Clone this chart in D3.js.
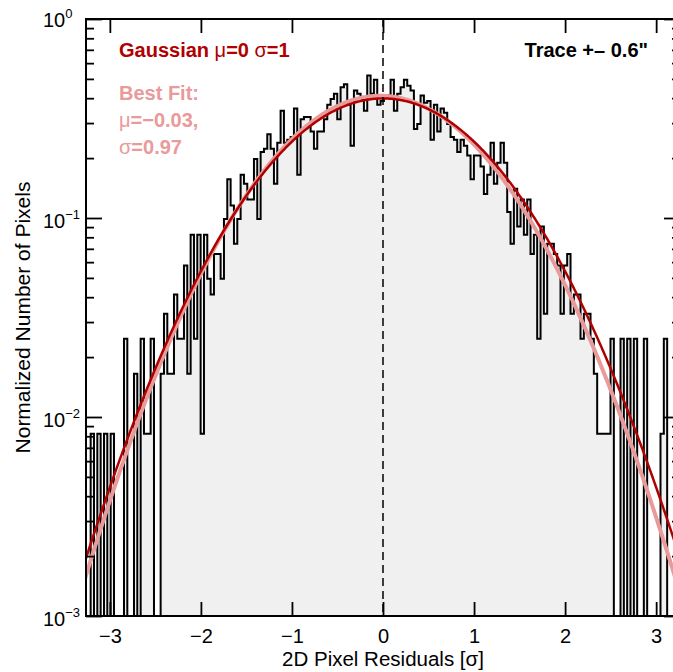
<!DOCTYPE html>
<html lang="en">
<head>
<meta charset="UTF-8">
<title>2D Pixel Residuals</title>
<script src="https://d3js.org/d3.v7.min.js"></script>
<style>
  body { margin: 0; background: #fff; }
  svg { display: block; font-family: Helvetica, "Liberation Sans", Arial, sans-serif; }
</style>
</head>
<body>
<script>
// histogram of residuals: pixel counts per bin (bins start at binStart, step binWidth, in sigma)
const binStart = -3.284;
const binWidth = 0.0366;
const binCounts = [
  0, 0, 1, 0, 1, 0, 1, 0, 1, 0,
  0, 0, 3, 0, 0, 2, 0, 3, 1, 1,
  3, 0, 0, 2, 4, 2, 2, 5, 3, 3,
  7, 2, 10, 3, 10, 1, 10, 6, 5, 8,
  8, 6, 12, 19, 14, 9, 12, 20, 18, 15,
  15, 24, 12, 26, 27, 32, 27, 18, 29, 42,
  29, 30, 31, 43, 20, 38, 39, 39, 33, 27,
  33, 33, 38, 45, 48, 51, 38, 55, 57, 45,
  28, 53, 51, 48, 42, 63, 51, 60, 45, 47,
  50, 50, 60, 42, 51, 55, 60, 56, 53, 34,
  36, 50, 46, 47, 30, 45, 33, 43, 41, 36,
  31, 30, 26, 30, 28, 25, 19, 25, 25, 22,
  16, 20, 29, 18, 23, 29, 23, 13, 9, 17,
  11, 15, 10, 15, 8, 10, 3, 11, 4, 9,
  9, 8, 7, 4, 7, 8, 4, 5, 5, 3,
  4, 4, 3, 2, 1, 1, 1, 1, 3, 0,
  0, 3, 0, 3, 0, 3, 0, 0, 3, 0,
  0, 0, 0, 1, 3, 0, 0, 0, 0
];

// gaussian curves (best fit drawn first, underneath)
const curveMu = [-0.03, 0];
const curveSigma = [0.97, 1];
const curveColors = ["#e99a9a", "#b00000"];
const curveWidths = [4, 2.5];

const xTicks = [-3, -2, -1, 0, 1, 2, 3];
const yDecades = [0, -1, -2, -3];

const width = 673, height = 672;
const plot = { left: 86, right: 680, top: 19, bottom: 616 };

const svg = d3.select("body").append("svg")
  .attr("width", width)
  .attr("height", height);

const x = d3.scaleLinear().domain([-3.262, 3.262]).range([plot.left, plot.right]);
const y = d3.scaleLog().domain([1e-3, 1]).range([plot.bottom, plot.top]);

// normalise counts to a density
const total = d3.sum(binCounts);
const bins = binCounts.map((c, i) => ({ x0: binStart + i * binWidth, v: c / (total * binWidth) }));
bins.push({ x0: binStart + binCounts.length * binWidth, v: bins[bins.length - 1].v });
const yv = v => v > 0 ? y(v) : plot.bottom + 2;

svg.append("clipPath").attr("id", "clip")
  .append("rect")
  .attr("x", plot.left).attr("y", plot.top)
  .attr("width", plot.right - plot.left).attr("height", plot.bottom - plot.top);

const g = svg.append("g").attr("clip-path", "url(#clip)");

g.append("path")
  .datum(bins)
  .attr("d", d3.area().curve(d3.curveStepAfter).x(d => x(d.x0)).y0(plot.bottom).y1(d => yv(d.v)))
  .attr("fill", "#f0f0f0");

g.append("path")
  .datum(bins)
  .attr("d", d3.line().curve(d3.curveStepAfter).x(d => x(d.x0)).y(d => yv(d.v)))
  .attr("fill", "none")
  .attr("stroke", "#000")
  .attr("stroke-width", 2);

// model curves
const xs = d3.range(-3.3, 3.3001, 0.01);
curveMu.forEach((mu, i) => {
  const s = curveSigma[i];
  const pts = xs.map(t => [t, Math.exp(-0.5 * ((t - mu) / s) ** 2) / (s * Math.sqrt(2 * Math.PI))]);
  g.append("path")
    .datum(pts)
    .attr("d", d3.line().x(d => x(d[0])).y(d => y(d[1])))
    .attr("fill", "none")
    .attr("stroke", curveColors[i])
    .attr("stroke-width", curveWidths[i]);
});

// zero line
g.append("line")
  .attr("x1", x(0)).attr("x2", x(0))
  .attr("y1", plot.top).attr("y2", plot.bottom)
  .attr("stroke", "#000")
  .attr("stroke-width", 1.5)
  .attr("stroke-dasharray", "8,5");

// axes, ticks pointing inward
const fmt = d => d < 0 ? "\u2212" + Math.abs(d) : String(d);
const minors = [];
yDecades.slice(1).forEach(d => { for (let m = 2; m <= 9; m++) minors.push(m * Math.pow(10, d)); });
const majors = yDecades.map(d => Math.pow(10, d));

function styleAxis(sel) {
  sel.select(".domain").remove();
  sel.attr("font-family", null).attr("font-size", 20);
  sel.selectAll("line").attr("stroke", "#000").attr("stroke-width", 1.8);
  sel.selectAll("text").attr("fill", "#000");
}

svg.append("g")
  .attr("transform", `translate(0,${plot.bottom})`)
  .call(d3.axisBottom(x).tickValues(xTicks).tickSize(-14).tickPadding(13).tickFormat(fmt))
  .call(styleAxis);

svg.append("g")
  .attr("transform", `translate(0,${plot.top})`)
  .call(d3.axisTop(x).tickValues(xTicks).tickSize(-14).tickFormat(""))
  .call(styleAxis);

[[d3.axisLeft, plot.left], [d3.axisRight, plot.right]].forEach(([ax, px]) => {
  svg.append("g").attr("transform", `translate(${px},0)`)
    .call(ax(y).tickValues(majors).tickSize(-16).tickFormat(""))
    .call(styleAxis);
  svg.append("g").attr("transform", `translate(${px},0)`)
    .call(ax(y).tickValues(minors).tickSize(-8).tickFormat(""))
    .call(styleAxis);
});

svg.append("rect")
  .attr("x", plot.left).attr("y", plot.top)
  .attr("width", plot.right - plot.left).attr("height", plot.bottom - plot.top)
  .attr("fill", "none")
  .attr("stroke", "#000")
  .attr("stroke-width", 2);

// y tick labels 10^n
yDecades.forEach(d => {
  const t = svg.append("text")
    .attr("x", 43)
    .attr("y", y(Math.pow(10, d)) + (d === 0 ? 8 : 10))
    .attr("font-size", 20)
    .text("10");
  t.append("tspan")
    .attr("dy", -9)
    .attr("font-size", 13)
    .text(d === 0 ? "0" : "\u2212" + (-d));
});

// axis titles
svg.append("text")
  .attr("x", x(0))
  .attr("y", 666)
  .attr("text-anchor", "middle")
  .attr("font-size", 20.5)
  .text("2D Pixel Residuals [\u03c3]");

svg.append("text")
  .attr("transform", `translate(30,${(plot.top + plot.bottom) / 2}) rotate(-90)`)
  .attr("text-anchor", "middle")
  .attr("font-size", 21)
  .text("Normalized Number of Pixels");

// legend text
const leg = svg.append("g").attr("font-size", 20).attr("font-weight", "bold");

const l1 = leg.append("text").attr("x", 119).attr("y", 57).attr("fill", curveColors[1]);
l1.append("tspan").text("Gaussian ");
l1.append("tspan").attr("font-weight", "normal").text("\u03bc");
l1.append("tspan").text("=0 ");
l1.append("tspan").attr("font-weight", "normal").text("\u03c3");
l1.append("tspan").text("=1");

leg.append("text")
  .attr("x", 648).attr("y", 57)
  .attr("text-anchor", "end")
  .attr("fill", "#000")
  .text("Trace +\u2013 0.6\"");

leg.append("text").attr("x", 119).attr("y", 100).attr("fill", curveColors[0]).text("Best Fit:");
const l3 = leg.append("text").attr("x", 119).attr("y", 127).attr("fill", curveColors[0]);
l3.append("tspan").attr("font-weight", "normal").text("\u03bc");
l3.append("tspan").text("=\u22120.03,");
const l4 = leg.append("text").attr("x", 119).attr("y", 154).attr("fill", curveColors[0]);
l4.append("tspan").attr("font-weight", "normal").text("\u03c3");
l4.append("tspan").text("=0.97");
</script>
</body>
</html>
